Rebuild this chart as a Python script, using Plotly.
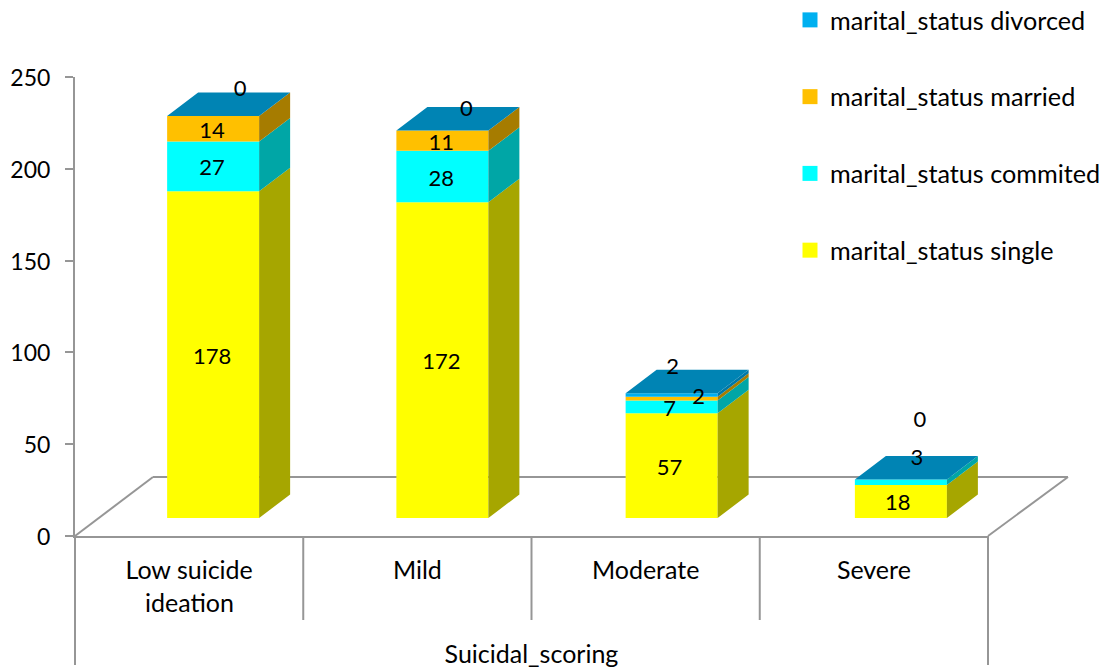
import plotly.graph_objects as go

CATEGORIES = ["Low suicide ideation", "Mild", "Moderate", "Severe"]
AXIS_TITLE = "Suicidal_scoring"
SERIES = ["marital_status single", "marital_status commited", "marital_status married", "marital_status divorced"]
SINGLE = [178, 172, 57, 18]
COMMITED = [27, 28, 7, 3]
MARRIED = [14, 11, 2, None]
DIVORCED = [0, 0, 2, 0]
Y_TICKS = [0, 50, 100, 150, 200, 250]

FRONT = ["#ffff00", "#00ffff", "#ffc000", "#00b0f0"]
SIDE = ["#a6a600", "#00a6a6", "#a67c00", "#0078a6"]
TOP = "#0084b4"
AXIS = "#969696"
FONT = "Lato"
FS_AXIS = 25
FS_TICK = 23
FS_LABEL = 22
FS_LEGEND = 25.2

# pixel geometry of the frame
L, R, T, B = 75, 988, 77, 536
UX = (R - L) / 4          # px per category
UY = (B - T) / 250        # px per value unit
px_x = lambda p: p / UX
px_y = lambda p: p / UY
# paper-fraction helpers for furniture outside the plot rectangle
paper_x = lambda p: (p - L) / (R - L)
paper_y = lambda p: (B - p) / (B - T)

BASE = px_y(18)
BAR_W = px_x(92)
DEPTH_X, DEPTH_Y = px_x(31), px_y(23.5)

values = [SINGLE, COMMITED, MARRIED, DIVORCED]
centers = [i + 0.5 + px_x(24 + i) for i in range(len(CATEGORIES))]

fig = go.Figure()

bases = [BASE] * 4
stacks = []
for s, vals in enumerate(values):
    v = [a or 0 for a in vals]
    fig.add_trace(go.Bar(x=centers, y=v, base=list(bases), width=BAR_W,
                         marker=dict(color=FRONT[s], line=dict(width=0)),
                         showlegend=False, name=SERIES[s]))
    stacks.append(list(bases))
    # side faces, extruded from the bar's right edge
    xs, ys = [], []
    for c, b, h in zip(centers, bases, v):
        if h:
            r = c + BAR_W / 2
            xs += [r, r + DEPTH_X, r + DEPTH_X, r, r, None]
            ys += [b, b + DEPTH_Y, b + h + DEPTH_Y, b + h, b, None]
    fig.add_trace(go.Scatter(x=xs, y=ys, mode="lines", fill="toself", fillcolor=SIDE[s],
                             line=dict(width=0), showlegend=False, hoverinfo="skip"))
    bases = [b + h for b, h in zip(bases, v)]

# top faces
xs, ys = [], []
for c, b in zip(centers, bases):
    l, r = c - BAR_W / 2, c + BAR_W / 2
    xs += [l, r, r + DEPTH_X, l + DEPTH_X, l, None]
    ys += [b, b, b + DEPTH_Y, b + DEPTH_Y, b, None]
fig.add_trace(go.Scatter(x=xs, y=ys, mode="lines", fill="toself", fillcolor=TOP,
                         line=dict(width=0), showlegend=False, hoverinfo="skip"))

# data labels: (series, category) -> pixel nudge from the segment's middle
LABEL_DX, LABEL_DY = -1, 3.5
NUDGE = {(3, 0): (28, -28.5), (3, 1): (25, -23.5), (2, 2): (28, -3.5), (3, 2): (2, -29.5),
         (1, 2): (-1, 0), (0, 2): (-1, 0),
         (1, 3): (17, -26.5), (3, 3): (20, -61.5), (0, 3): (-2, 0)}
lx, ly, lt = [], [], []
for s, vals in enumerate(values):
    for c, val in enumerate(vals):
        if val is None:
            continue
        dx, dy = NUDGE.get((s, c), (0, 0))
        lx.append(centers[c] + px_x(dx + LABEL_DX))
        ly.append(stacks[s][c] + val / 2 - px_y(dy + LABEL_DY))
        lt.append(str(val))
fig.add_trace(go.Scatter(x=lx, y=ly, text=lt, mode="text", textposition="middle center",
                         textfont=dict(family=FONT, size=FS_LABEL, color="#000000"),
                         cliponaxis=False, showlegend=False, hoverinfo="skip"))

# legend entries
for s in [3, 2, 1, 0]:
    fig.add_trace(go.Scatter(x=[None], y=[None], mode="markers", name=SERIES[s],
                             legendgroup=SERIES[s],
                             marker=dict(symbol="square", size=15, color=FRONT[s])))

line = dict(color=AXIS, width=2)
FX0, FY0 = paper_x(L + 78), paper_y(B - 59)
FX1 = paper_x(R + 80)
shapes = [
    # floor
    dict(type="line", xref="paper", yref="paper", layer="below", x0=0, y0=0, x1=FX0, y1=FY0, line=line),
    dict(type="line", xref="paper", yref="paper", layer="below", x0=FX0, y0=FY0, x1=FX1, y1=FY0, line=line),
    dict(type="line", xref="paper", yref="paper", layer="below", x0=1, y0=0, x1=FX1, y1=FY0, line=line),
]
# category separators below the axis
for i in range(5):
    end = 665 if i in (0, 4) else 620
    shapes.append(dict(type="line", xref="paper", yref="paper", x0=i / 4, x1=i / 4, y0=0, y1=paper_y(end), line=line))

# the first category wraps with Excel's wider line spacing, so its second line is set apart
first, second = CATEGORIES[0].rsplit(" ", 1)
tick_text = [first] + CATEGORIES[1:]
annotations = [dict(text=second, x=0.125, xref="paper", y=paper_y(602), yref="paper", showarrow=False,
                    xanchor="center", yanchor="middle", font=dict(family=FONT, size=FS_AXIS, color="#000000"))]

fig.update_layout(
    width=1107, height=668,
    margin=dict(l=L, r=1107 - R, t=T, b=668 - B, autoexpand=False),
    paper_bgcolor="white", plot_bgcolor="rgba(0,0,0,0)",
    barmode="overlay",
    shapes=shapes, annotations=annotations,
    font=dict(family=FONT, size=FS_AXIS, color="#000000"),
    showlegend=True,
    legend=dict(x=paper_x(790), xanchor="left", y=paper_y(-3), yanchor="top",
                tracegroupgap=41, font=dict(family=FONT, size=FS_LEGEND, color="#000000"),
                bgcolor="rgba(0,0,0,0)", itemclick=False, itemdoubleclick=False),
    xaxis=dict(range=[0, 4], tickvals=[i + 0.5 for i in range(4)], ticktext=tick_text,
               showgrid=False, zeroline=False, showline=True, linecolor=AXIS, linewidth=2,
               ticks="", ticklabelstandoff=11, tickangle=0, tickfont=dict(family=FONT, size=FS_AXIS),
               title=dict(text=AXIS_TITLE, standoff=70, font=dict(family=FONT, size=FS_AXIS, color="#000000"))),
    yaxis=dict(range=[0, 250], tickvals=Y_TICKS, showgrid=False, zeroline=False,
               showline=True, linecolor=AXIS, linewidth=2, ticks="outside", ticklen=8,
               tickcolor=AXIS, tickwidth=2, ticklabelstandoff=10, ticklabelshift=1,
               tickfont=dict(family=FONT, size=FS_TICK)),
)

fig.write_html("out.html", config=dict(displayModeBar=False),
               post_script="document.body.style.margin='0';document.documentElement.style.overflow='hidden';")
